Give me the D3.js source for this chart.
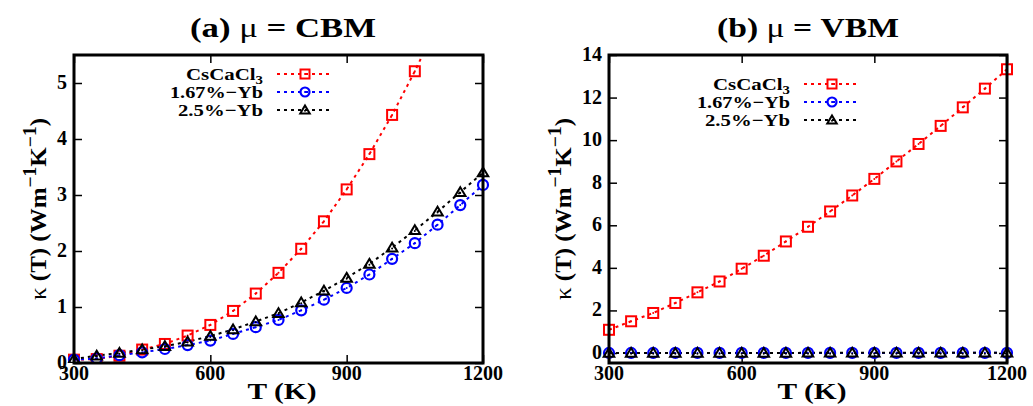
<!DOCTYPE html>
<html>
<head>
<meta charset="utf-8">
<script src="https://cdn.jsdelivr.net/npm/d3@7"></script>
<style>
  body { margin: 0; background: #fff; }
</style>
</head>
<body>
<script>
const temps = [300, 350, 400, 450, 500, 550, 600, 650, 700, 750, 800, 850, 900, 950, 1000, 1050, 1100, 1150, 1200];

// (a) mu = CBM
const cbmPure = [0.06, 0.07, 0.13, 0.24, 0.34, 0.49, 0.68, 0.93, 1.24, 1.61, 2.04, 2.53, 3.10, 3.73, 4.43, 5.21, 6.06, 7.00, 8.05];
const cbmYb167 = [0.06, 0.08, 0.14, 0.19, 0.25, 0.32, 0.40, 0.52, 0.64, 0.77, 0.94, 1.13, 1.34, 1.58, 1.86, 2.14, 2.47, 2.82, 3.18];
const cbmYb25 = [0.07, 0.13, 0.18, 0.24, 0.30, 0.38, 0.48, 0.60, 0.74, 0.89, 1.08, 1.29, 1.52, 1.77, 2.06, 2.37, 2.70, 3.05, 3.40];

// (b) mu = VBM
const vbmPure = [1.09, 1.49, 1.88, 2.35, 2.85, 3.36, 3.96, 4.57, 5.24, 5.93, 6.65, 7.40, 8.18, 9.00, 9.82, 10.67, 11.54, 12.42, 13.33];
const vbmYb167 = [0.002, 0.002, 0.002, 0.003, 0.003, 0.003, 0.003, 0.004, 0.004, 0.004, 0.004, 0.005, 0.005, 0.005, 0.005, 0.006, 0.006, 0.006, 0.007];
const vbmYb25 = [0.003, 0.003, 0.003, 0.004, 0.004, 0.004, 0.005, 0.005, 0.005, 0.006, 0.006, 0.006, 0.007, 0.007, 0.007, 0.008, 0.008, 0.008, 0.009];

const xTicks = [300, 600, 900, 1200];
const yTicksA = [0, 1, 2, 3, 4, 5];
const yTicksB = [0, 2, 4, 6, 8, 10, 12, 14];

const seriesNames = ['CsCaCl3', '1.67%\u2212Yb', '2.5%\u2212Yb'];
const legendWidths = [77, 93, 85];
const seriesColors = ['#ff0000', '#0000ff', '#000000'];
const seriesShapes = ['square', 'circle', 'triangle'];

let svg = d3.select('body').append('svg')
  .attr('width', 1033).attr('height', 406);

// every text gets the serif face set on itself
function txt(g) {
  return g.append('text').attr('font-family', 'Liberation Serif').attr('font-weight', 'bold');
}

function drawMarker(g, shape, color, s) {
  s = s || 5;
  if (shape === 'square') {
    g.append('rect').attr('x', -s).attr('y', -s).attr('width', 2 * s).attr('height', 2 * s)
      .attr('fill', 'none').attr('stroke', color).attr('stroke-width', 2);
    g.append('circle').attr('r', 1).attr('fill', color);
  } else if (shape === 'circle') {
    g.append('circle').attr('r', s).attr('fill', 'none').attr('stroke', color).attr('stroke-width', 2.2);
    g.append('circle').attr('r', 1).attr('fill', color);
  } else {
    g.append('path').attr('d', `M0,${-s}L${s * 1.05},${s * 0.75}L${-s * 1.05},${s * 0.75}Z`)
      .attr('fill', 'none').attr('stroke', color).attr('stroke-width', 2);
    g.append('circle').attr('cy', 0.8).attr('r', 1).attr('fill', color);
  }
}

function panel(opts) {
  const { left, right, top, bottom, yDomain, yTicks, series, title, titleX, titleW, xLabelX,
          legendX, legendY, labelX, tickLabelX, clipId } = opts;
  let x = d3.scaleLinear().domain([300, 1200]).range([left, right]);
  let y = d3.scaleLinear().domain(yDomain).range([bottom, top]);
  let g = svg.append('g');

  g.append('clipPath').attr('id', clipId).append('rect')
    .attr('x', left - 8).attr('y', top).attr('width', right - left + 16).attr('height', bottom - top);

  // ticks, inward on all four sides
  let axB = d3.axisBottom(x).tickValues(xTicks).tickSize(-8).tickFormat('');
  let axT = d3.axisTop(x).tickValues(xTicks).tickSize(-8).tickFormat('');
  let axL = d3.axisLeft(y).tickValues(yTicks).tickSize(-8).tickFormat('');
  let axR = d3.axisRight(y).tickValues(yTicks).tickSize(-8).tickFormat('');
  [[axB, `translate(0,${bottom})`], [axT, `translate(0,${top})`], [axL, `translate(${left},0)`], [axR, `translate(${right},0)`]]
    .forEach(([ax, tr]) => {
      let a = g.append('g').attr('transform', tr).call(ax);
      a.select('.domain').remove();
      a.selectAll('line').attr('stroke', '#000').attr('stroke-width', 1.5);
    });

  // tick labels
  xTicks.forEach(d => {
    txt(g).attr('x', x(d)).attr('y', bottom + 17)
      .attr('text-anchor', 'middle').attr('font-size', 20).text(d);
  });
  yTicks.forEach(d => {
    txt(g).attr('x', tickLabelX).attr('y', y(d) + 6)
      .attr('text-anchor', 'end').attr('font-size', 20).text(d);
  });

  // data
  let line = d3.line().x((d, i) => x(temps[i])).y(d => y(d));
  let dg = g.append('g').attr('clip-path', `url(#${clipId})`);
  series.forEach((vals, k) => {
    dg.append('path').datum(vals).attr('d', line)
      .attr('fill', 'none').attr('stroke', seriesColors[k])
      .attr('stroke-width', 2).attr('stroke-dasharray', '3,4');
  });
  series.forEach((vals, k) => {
    vals.forEach((v, i) => {
      let m = dg.append('g').attr('transform', `translate(${x(temps[i])},${y(v)})`);
      drawMarker(m, seriesShapes[k], seriesColors[k]);
    });
  });

  // frame
  g.append('rect').attr('x', left).attr('y', top).attr('width', right - left).attr('height', bottom - top)
    .attr('fill', 'none').attr('stroke', '#000').attr('stroke-width', 3);

  // title
  let t = txt(g).attr('x', titleX).attr('y', 37)
    .attr('text-anchor', 'middle').attr('font-size', 27)
    .attr('textLength', titleW).attr('lengthAdjust', 'spacingAndGlyphs');
  t.append('tspan').text(title[0] + ' ');
  t.append('tspan').attr('font-weight', 'normal').text('\u03bc');
  t.append('tspan').text(' = ' + title[1]);

  // axis labels
  txt(g).attr('x', xLabelX).attr('y', 399)
    .attr('text-anchor', 'middle').attr('font-size', 24)
    .attr('textLength', 69).attr('lengthAdjust', 'spacingAndGlyphs').text('T (K)');
  let yl = txt(g)
    .attr('transform', `translate(${labelX},${(top + bottom) / 2}) rotate(-90)`)
    .attr('text-anchor', 'middle').attr('font-size', 23)
    .attr('textLength', 182).attr('lengthAdjust', 'spacingAndGlyphs');
  yl.append('tspan').attr('font-weight', 'normal').text('\u03ba');
  yl.append('tspan').text(' (T) (Wm');
  yl.append('tspan').attr('dy', -10).attr('font-size', 18).text('\u22121');
  yl.append('tspan').attr('dy', 10).text('K');
  yl.append('tspan').attr('dy', -10).attr('font-size', 18).text('\u22121');
  yl.append('tspan').attr('dy', 10).text(')');

  // legend
  seriesNames.forEach((name, k) => {
    let ly = legendY + k * 18;
    let lt = txt(g).attr('x', legendX).attr('y', ly + 6)
      .attr('text-anchor', 'end').attr('font-size', 17)
      .attr('textLength', legendWidths[k]).attr('lengthAdjust', 'spacingAndGlyphs');
    if (k === 0) {
      lt.append('tspan').text('CsCaCl');
      lt.append('tspan').attr('dy', 4).attr('font-size', 12).text('3');
    } else {
      lt.text(name);
    }
    g.append('line').attr('x1', legendX + 14).attr('x2', legendX + 70)
      .attr('y1', ly).attr('y2', ly)
      .attr('stroke', seriesColors[k]).attr('stroke-width', 2).attr('stroke-dasharray', '3,4');
    let m = g.append('g').attr('transform', `translate(${legendX + 42},${ly})`);
    drawMarker(m, seriesShapes[k], seriesColors[k], 4.5);
  });
}

panel({
  left: 74, right: 483, top: 55, bottom: 363,
  yDomain: [0, 5.5], yTicks: yTicksA,
  series: [cbmPure, cbmYb167, cbmYb25],
  title: ['(a)', 'CBM'], titleX: 283, titleW: 186, xLabelX: 282,
  legendX: 263, legendY: 74, labelX: 46, tickLabelX: 67, clipId: 'clipA'
});

panel({
  left: 609, right: 1007, top: 55, bottom: 363,
  yDomain: [-0.47, 14], yTicks: yTicksB,
  series: [vbmPure, vbmYb167, vbmYb25],
  title: ['(b)', 'VBM'], titleX: 808, titleW: 182, xLabelX: 812,
  legendX: 790, legendY: 84, labelX: 571, tickLabelX: 602, clipId: 'clipB'
});
</script>
</body>
</html>
